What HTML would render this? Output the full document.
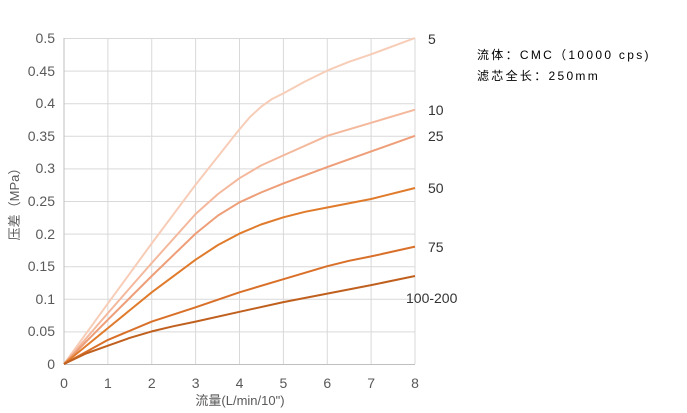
<!DOCTYPE html>
<html><head><meta charset="utf-8"><style>
body{margin:0;background:#fff;}
svg{display:block;font-family:"Liberation Sans","Noto Sans CJK SC",sans-serif;}
</style></head><body>
<svg width="687" height="413" viewBox="0 0 687 413">
<g stroke="#d9d9d9" stroke-width="1">
<line x1="64" y1="38.5" x2="415" y2="38.5"/><line x1="64" y1="71.1" x2="415" y2="71.1"/>
<line x1="64" y1="103.7" x2="415" y2="103.7"/><line x1="64" y1="136.3" x2="415" y2="136.3"/>
<line x1="64" y1="168.9" x2="415" y2="168.9"/><line x1="64" y1="201.5" x2="415" y2="201.5"/>
<line x1="64" y1="234.1" x2="415" y2="234.1"/><line x1="64" y1="266.7" x2="415" y2="266.7"/>
<line x1="64" y1="299.3" x2="415" y2="299.3"/><line x1="64" y1="331.9" x2="415" y2="331.9"/>
<line x1="107.9" y1="38" x2="107.9" y2="364"/><line x1="151.75" y1="38" x2="151.75" y2="364"/>
<line x1="195.6" y1="38" x2="195.6" y2="364"/><line x1="239.5" y1="38" x2="239.5" y2="364"/>
<line x1="283.4" y1="38" x2="283.4" y2="364"/><line x1="327.25" y1="38" x2="327.25" y2="364"/>
<line x1="371.1" y1="38" x2="371.1" y2="364"/><line x1="415" y1="38" x2="415" y2="364"/>
</g>
<line x1="64" y1="38" x2="64" y2="364" stroke="#bfbfbf"/>
<line x1="64" y1="364.5" x2="415" y2="364.5" stroke="#bfbfbf"/>
<g fill="none" stroke-width="2" stroke-linejoin="round">
<polyline stroke="#f7cdb8" points="64,364 107.9,303.4 151.75,243.4 195.6,184.7 239.5,129.3 250,117 261.4,106.5 272,99 283.4,93.4 305,81.5 327.25,70.6 349,61.8 371.1,54.3 415,38"/>
<polyline stroke="#f4b89c" points="64,364 107.9,313.1 151.75,263 195.6,214 218,194 239.5,178.2 261,165.5 283.4,155.4 327.25,135.8 371.1,122.8 415,109.7"/>
<polyline stroke="#ee9e78" points="64,364 107.9,319.7 151.75,276 195.6,233.6 218,215.5 239.5,202.3 261,192.5 283.4,183.4 327.25,167.1 371.1,151.4 415,135.8"/>
<polyline stroke="#e07b2c" points="64,364 107.9,328.1 151.75,292.3 195.6,259.7 218,245 239.5,233.6 261,224.5 283.4,217.3 305,211.8 327.25,207.5 371.1,199 415,188"/>
<polyline stroke="#d9702a" points="64,364 107.9,339.9 151.75,321.6 195.6,307.3 239.5,292.3 283.4,279.2 327.25,266.2 349,260.8 371.1,256.4 415,246.6"/>
<polyline stroke="#c0601f" points="64,364 86,353.5 107.9,345.7 130,337.8 151.75,331.4 173,326.3 195.6,321.6 239.5,311.8 283.4,302.1 327.25,293.6 371.1,285.1 415,276"/>
</g>
<g fill="#595959" font-size="14" text-anchor="end">
<text x="55" y="43">0.5</text><text x="55" y="76">0.45</text><text x="55" y="108">0.4</text>
<text x="55" y="141">0.35</text><text x="55" y="173">0.3</text><text x="55" y="206">0.25</text>
<text x="55" y="239">0.2</text><text x="55" y="271">0.15</text><text x="55" y="304">0.1</text>
<text x="55" y="336">0.05</text><text x="55" y="369">0</text>
</g>
<g fill="#595959" font-size="14" text-anchor="middle">
<text x="64" y="388">0</text><text x="107.9" y="388">1</text><text x="151.75" y="388">2</text>
<text x="195.6" y="388">3</text><text x="239.5" y="388">4</text><text x="283.4" y="388">5</text>
<text x="327.25" y="388">6</text><text x="371.1" y="388">7</text><text x="415" y="388">8</text>
<text x="240" y="405" font-size="13">流量(L/min/10")</text>
</g>
<text transform="translate(19,201) rotate(-90)" fill="#595959" font-size="13" text-anchor="middle">压差（MPa）</text>
<g fill="#333" font-size="14">
<text x="428" y="44">5</text><text x="428" y="115">10</text><text x="428" y="141">25</text>
<text x="428" y="193">50</text><text x="428" y="252">75</text><text x="406" y="303">100-200</text>
</g>
<g fill="#000" font-size="12" letter-spacing="2.3">
<text x="477" y="59">流体：CMC（10000 cps)</text>
<text x="477" y="80">滤芯全长：250mm</text>
</g>
</svg>
</body></html>
